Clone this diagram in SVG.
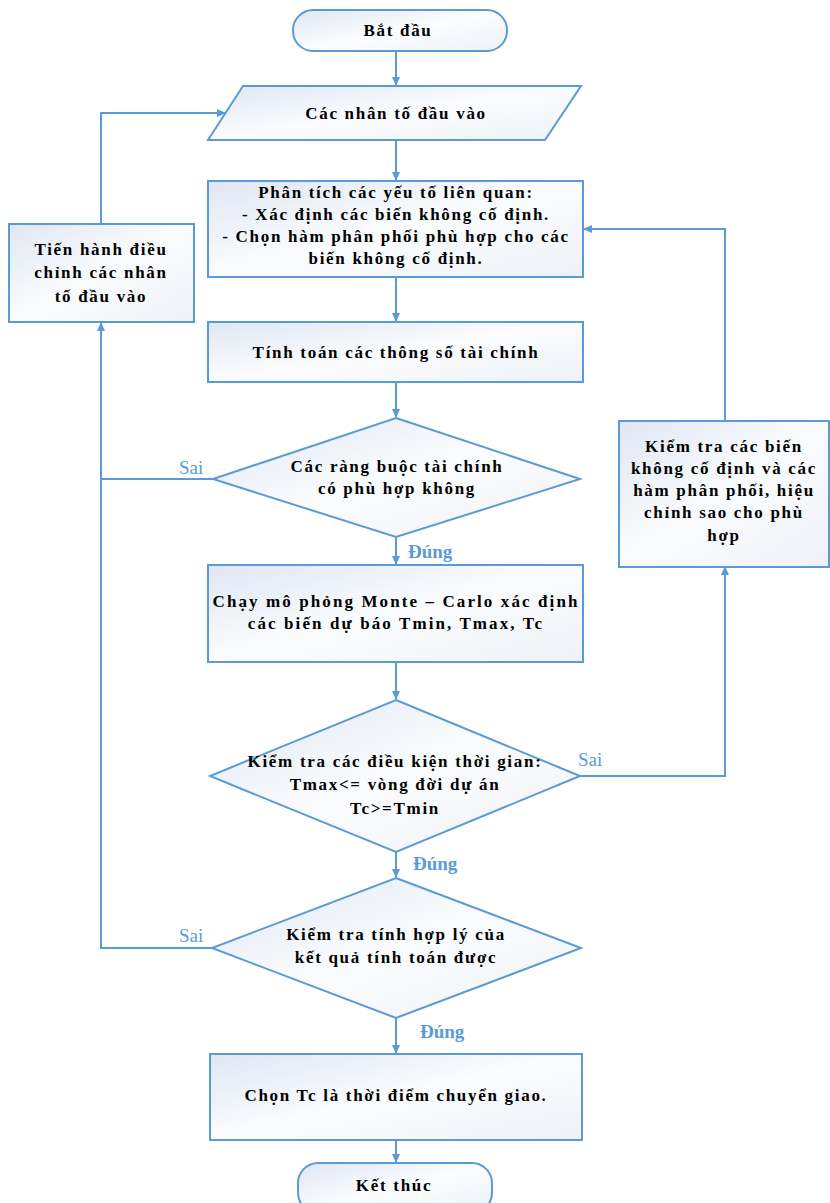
<svg xmlns="http://www.w3.org/2000/svg" width="830" height="1203" viewBox="0 0 830 1203">
<defs>
<linearGradient id="g" x1="0" y1="0" x2="1" y2="1">
<stop offset="0" stop-color="#dfe7f3"/>
<stop offset="0.5" stop-color="#fbfcfe"/>
<stop offset="1" stop-color="#eef2f8"/>
</linearGradient>
<marker id="ah" markerWidth="10" markerHeight="10" refX="8" refY="5" orient="auto" markerUnits="userSpaceOnUse">
<path d="M0,1 L9,5 L0,9 Z" fill="#5b9bd5"/>
</marker>
<style>
.n{fill:url(#g);stroke:#5b9bd5;stroke-width:2}
.t{font-family:"Liberation Serif","Times New Roman",serif;font-weight:bold;font-size:17px;fill:#000;text-anchor:middle;letter-spacing:1.7px}
.c{fill:none;stroke:#5b9bd5;stroke-width:2}
.l{font-family:"Liberation Serif","Times New Roman",serif;font-size:19px;fill:#5b9bd5}
.lb{font-weight:bold}
</style>
</defs>
<g id="connectors">
<path class="c" d="M396,51 V85" marker-end="url(#ah)"/>
<path class="c" d="M396,140 V180" marker-end="url(#ah)"/>
<path class="c" d="M396,277 V321" marker-end="url(#ah)"/>
<path class="c" d="M396,382 V417" marker-end="url(#ah)"/>
<path class="c" d="M396,537 V564" marker-end="url(#ah)"/>
<path class="c" d="M396,662 V699" marker-end="url(#ah)"/>
<path class="c" d="M396,852 V877" marker-end="url(#ah)"/>
<path class="c" d="M396,1018 V1053" marker-end="url(#ah)"/>
<path class="c" d="M396,1140 V1162" marker-end="url(#ah)"/>
<path class="c" d="M213,479 H101"/>
<path class="c" d="M212,948 H101 V323" marker-end="url(#ah)"/>
<path class="c" d="M101,224 V113 H225" marker-end="url(#ah)"/>
<path class="c" d="M580,776 H725 V567" marker-end="url(#ah)"/>
<path class="c" d="M725,421 V229 H584" marker-end="url(#ah)"/>
<text class="l" x="179" y="474">Sai</text>
<text class="l" x="578" y="766">Sai</text>
<text class="l" x="179" y="942">Sai</text>
<text class="l lb" x="408" y="558">Đúng</text>
<text class="l lb" x="413" y="870">Đúng</text>
<text class="l lb" x="420" y="1038">Đúng</text>
</g>
<g id="start">
<rect class="n" x="293" y="10" width="214" height="41" rx="20"/>
<text class="t" x="398" y="36">Bắt đầu</text>
</g>
<g id="input">
<path class="n" d="M243,86 H581 L545,140 H208 Z"/>
<text class="t" x="396" y="119">Các nhân tố đầu vào</text>
</g>
<g id="analyze">
<rect class="n" x="208" y="181" width="375" height="96"/>
<text class="t" x="396" y="198">Phân tích các yếu tố liên quan:</text>
<text class="t" x="396" y="220">- Xác định  các biến không cố định.</text>
<text class="t" x="396" y="242">- Chọn hàm phân phối phù hợp cho các</text>
<text class="t" x="396" y="264">biến không cố định.</text>
</g>
<g id="adjust">
<rect class="n" x="9" y="224" width="185" height="98"/>
<text class="t" x="101" y="255">Tiến hành điều</text>
<text class="t" x="101" y="278">chỉnh các nhân</text>
<text class="t" x="101" y="302">tố đầu vào</text>
</g>
<g id="compute">
<rect class="n" x="208" y="322" width="375" height="60"/>
<text class="t" x="396" y="358">Tính toán các thông số tài chính</text>
</g>
<g id="d1">
<path class="n" d="M396,418 L580,479 L396,537 L213,479 Z"/>
<text class="t" x="397" y="472">Các ràng buộc tài chính</text>
<text class="t" x="397" y="494">có phù hợp không</text>
</g>
<g id="monte">
<rect class="n" x="208" y="565" width="375" height="97"/>
<text class="t" x="396" y="607" style="letter-spacing:2.1px">Chạy mô phỏng Monte – Carlo xác định</text>
<text class="t" x="396" y="629" style="letter-spacing:2.1px">các biến dự báo Tmin, Tmax, Tc</text>
</g>
<g id="check">
<rect class="n" x="619" y="421" width="210" height="146"/>
<text class="t" x="724" y="452">Kiểm  tra các biến</text>
<text class="t" x="724" y="474">không cố định và các</text>
<text class="t" x="724" y="496">hàm phân phối, hiệu</text>
<text class="t" x="724" y="518">chỉnh sao cho phù</text>
<text class="t" x="724" y="541">hợp</text>
</g>
<g id="d2">
<path class="n" d="M396,700 L580,776 L396,852 L210,776 Z"/>
<text class="t" x="395" y="767">Kiểm tra các điều kiện thời gian:</text>
<text class="t" x="395" y="790">Tmax&lt;= vòng đời dự án</text>
<text class="t" x="395" y="814">Tc&gt;=Tmin</text>
</g>
<g id="d3">
<path class="n" d="M396,878 L581,948 L396,1018 L212,948 Z"/>
<text class="t" x="396" y="940">Kiểm tra tính hợp lý của</text>
<text class="t" x="396" y="963">kết quả tính toán được</text>
</g>
<g id="choose">
<rect class="n" x="210" y="1054" width="372" height="86"/>
<text class="t" x="396" y="1101">Chọn Tc là thời điểm chuyển giao.</text>
</g>
<g id="end">
<rect class="n" x="298" y="1163" width="194" height="50" rx="20"/>
<text class="t" x="394" y="1191">Kết thúc</text>
</g>
</svg>
